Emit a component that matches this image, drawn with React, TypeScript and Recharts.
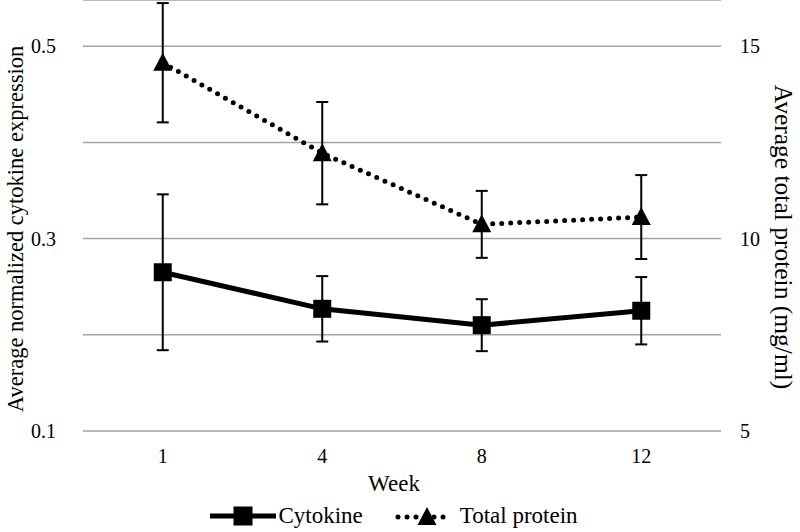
import React from 'react';
import {
  ComposedChart,
  Line,
  XAxis,
  YAxis,
  CartesianGrid,
  ErrorBar,
  Legend,
} from 'recharts';

// Values
const weeks = ['1', '4', '8', '12'];
const cytokine = [0.265, 0.227, 0.21, 0.225];
const cytokineErr = [0.081, 0.034, 0.027, 0.035];
const protein = [14.57, 12.22, 10.37, 10.56];
const proteinErr = [1.55, 1.33, 0.87, 1.09];

const leftTicks = [0.1, 0.2, 0.3, 0.4, 0.5];
const rightTicks = [5, 7.5, 10, 12.5, 15];

const data = weeks.map((week, i) => ({
  week,
  cytokine: cytokine[i],
  cytokineErr: cytokineErr[i],
  protein: protein[i],
  proteinErr: proteinErr[i],
}));

const FONT = 'Liberation Serif, serif';

const SquareDot = ({ cx, cy }: any) => {
  if (cx == null || cy == null) return null;
  return <rect x={cx - 9} y={cy - 9} width={18} height={18} fill="#000" />;
};

const TriangleDot = ({ cx, cy }: any) => {
  if (cx == null || cy == null) return null;
  return (
    <polygon
      points={`${cx},${cy - 10} ${cx - 9.5},${cy + 8} ${cx + 9.5},${cy + 8}`}
      fill="#000"
    />
  );
};

// axis titles
const AxisTitle = ({ x, y, angle, size, children }: any) => (
  <text
    x={x}
    y={y}
    transform={angle ? `rotate(${angle}, ${x}, ${y})` : undefined}
    textAnchor="middle"
    dominantBaseline="central"
    fontSize={size}
    fontFamily={FONT}
    fill="#000"
  >
    {children}
  </text>
);

const LeftLabel = () => (
  <AxisTitle x={15} y={229} angle={-90} size={22.5}>
    Average normalized cytokine expression
  </AxisTitle>
);

const RightLabel = () => (
  <AxisTitle x={783} y={237} angle={90} size={25.5}>
    Average total protein (mg/ml)
  </AxisTitle>
);

const WeekLabel = () => (
  <AxisTitle x={394} y={483} size={23}>
    Week
  </AxisTitle>
);

const CustomLegend = () => (
  <div
    style={{
      display: 'flex',
      justifyContent: 'center',
      alignItems: 'center',
      height: 36,
      paddingTop: 2,
      paddingRight: 12,
      fontFamily: FONT,
      fontSize: 23,
      color: '#000',
    }}
  >
    <svg width={66} height={20} style={{ marginRight: 2 }}>
      <line x1={0} y1={10} x2={66} y2={10} stroke="#000" strokeWidth={5} />
      <rect x={23.5} y={0.5} width={19} height={19} fill="#000" />
    </svg>
    <span style={{ marginRight: 32 }}>Cytokine</span>
    <svg width={56} height={20} style={{ marginRight: 9 }}>
      <line
        x1={3}
        y1={11}
        x2={55}
        y2={11}
        stroke="#000"
        strokeWidth={5}
        strokeDasharray="0 9"
        strokeLinecap="round"
      />
      <polygon points="32,1 22.5,19 41.5,19" fill="#000" />
    </svg>
    <span>Total protein</span>
  </div>
);

const tickStyle = { fontSize: 20, fontFamily: FONT, fill: '#000' };

export default function App() {
  return (
    <div style={{ position: 'absolute', left: 0, top: 0, width: 800, height: 532, background: '#fff', fontFamily: FONT }}>
      <ComposedChart
        width={800}
        height={532}
        data={data}
        margin={{ top: 0, right: 0, bottom: 0, left: 0 }}
      >
        <CartesianGrid
          yAxisId="left"
          vertical={false}
          stroke="#a3a3a3"
          strokeWidth={1.5}
        />
        <XAxis
          dataKey="week"
          scale="band"
          height={65}
          axisLine={false}
          tickLine={false}
          tickSize={0}
          tickMargin={18}
          tick={tickStyle}
          label={<WeekLabel />}
        />
        <YAxis
          yAxisId="left"
          type="number"
          domain={[0.1, 0.548]}
          ticks={leftTicks}
          allowDataOverflow
          width={83}
          axisLine={false}
          tickLine={false}
          tickSize={0}
          tickMargin={27}
          tickFormatter={(v: number) => (Math.round(v * 10) % 2 === 1 ? v.toFixed(1) : '')}
          tick={tickStyle}
          label={<LeftLabel />}
        />
        <YAxis
          yAxisId="right"
          orientation="right"
          type="number"
          domain={[5, 16.2]}
          ticks={rightTicks}
          allowDataOverflow
          width={79}
          axisLine={false}
          tickLine={false}
          tickSize={0}
          tickMargin={19}
          tickFormatter={(v: number) => (Number.isInteger(v) ? String(v) : '')}
          tick={tickStyle}
          label={<RightLabel />}
        />
        <Legend verticalAlign="bottom" height={36} content={<CustomLegend />} />
        <Line
          yAxisId="left"
          dataKey="cytokine"
          name="Cytokine"
          stroke="#000"
          strokeWidth={5}
          dot={<SquareDot />}
          activeDot={false}
          isAnimationActive={false}
        >
          <ErrorBar dataKey="cytokineErr" direction="y" width={6} stroke="#000" strokeWidth={2} />
        </Line>
        <Line
          yAxisId="right"
          dataKey="protein"
          name="Total protein"
          stroke="#000"
          strokeWidth={5}
          strokeDasharray="0 9"
          strokeLinecap="round"
          dot={<TriangleDot />}
          activeDot={false}
          isAnimationActive={false}
        >
          <ErrorBar dataKey="proteinErr" direction="y" width={6} stroke="#000" strokeWidth={2} />
        </Line>
      </ComposedChart>
    </div>
  );
}
